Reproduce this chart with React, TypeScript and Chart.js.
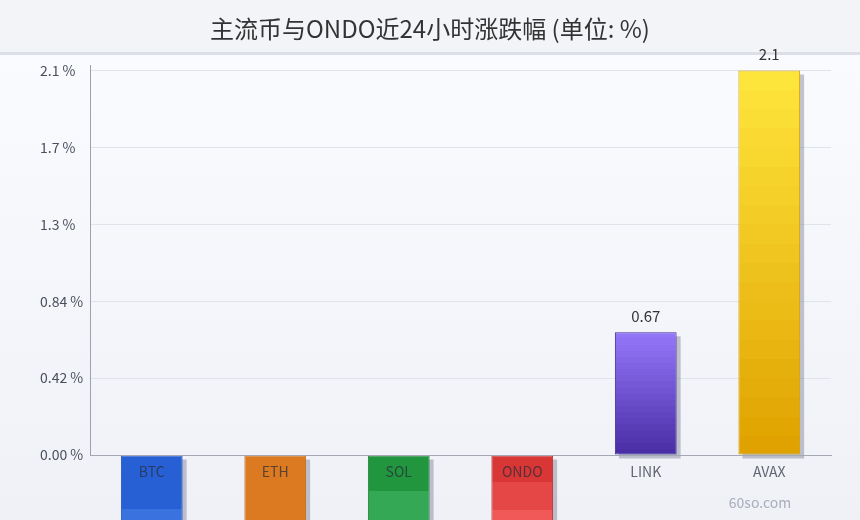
import { useEffect, useRef } from "react"
import { Chart, registerables, type Plugin } from "chart.js"
Chart.register(...registerables)

const TITLE = "主流币与ONDO近24小时涨跌幅 (单位: %)"
const WATERMARK = "60so.com"

const CATEGORIES = ["BTC", "ETH", "SOL", "ONDO", "LINK", "AVAX"]
// 24h change in %, negative bars run off the bottom of the picture
const CHANGE_PCT = [-5.9, -7.6, -3.95, -3.0, 0.67, 2.1]

const Y_TICKS = [0, 0.42, 0.84, 1.26, 1.68, 2.1]
const Y_TICK_LABELS = ["0.00 %", "0.42 %", "0.84 %", "1.3 %", "1.7 %", "2.1 %"]

// colour at the zero end of each bar, and the change per gradient band
const BASE_RGB = [[38, 96, 212], [220, 122, 34], [34, 150, 63], [217, 54, 54], [74, 46, 166], [224, 162, 0]]
const STEP_RGB = [[20, 18, 12], [10, 10, 10], [19, 18, 22], [12, 17, 17], [3.8, 3.8, 4.3], [1.6, 3.5, 3.1]]
const BORDERS = ["#1f52bd", "#c96a18", "#1d8036", "#bd2c2c", "#3d2a9c", "#d7a300"]
const BANDS = 20

const FONT = "'Noto Sans CJK SC', 'Noto Sans', sans-serif"

const rgb = (c: number[]) =>
  `rgb(${c.map((v) => Math.max(0, Math.min(255, Math.round(v)))).join(",")})`

const barFill = (c: any) => {
  const i = c.dataIndex
  const y = c.chart.scales?.y
  if (i === undefined) return rgb(BASE_RGB[0])
  if (!y) return rgb(BASE_RGB[i])
  const y0 = y.getPixelForValue(0)
  const y1 = y.getPixelForValue(CHANGE_PCT[i])
  if (!isFinite(y0) || !isFinite(y1) || y0 === y1) return rgb(BASE_RGB[i])
  const g = c.chart.ctx.createLinearGradient(0, y0, 0, y1)
  for (let b = 0; b < BANDS; b++) {
    const col = rgb(BASE_RGB[i].map((v, k) => v + STEP_RGB[i][k] * b))
    g.addColorStop(b / BANDS, col)
    g.addColorStop((b + 1) / BANDS, col)
  }
  return g
}

const backdrop: Plugin = {
  id: "backdrop",
  beforeDraw(chart) {
    const { ctx, width, height } = chart
    ctx.save()
    const bg = ctx.createLinearGradient(0, 52, 0, height)
    bg.addColorStop(0, "#fafbfe")
    bg.addColorStop(1, "#eff1f7")
    ctx.fillStyle = bg
    ctx.fillRect(0, 0, width, height)
    ctx.fillStyle = "#f3f4f8"
    ctx.fillRect(0, 0, width, 52)
    ctx.fillStyle = "#dcdfe7"
    ctx.fillRect(0, 52, width, 3)
    ctx.fillStyle = "#333333"
    ctx.font = `24px ${FONT}`
    ctx.textAlign = "center"
    ctx.textBaseline = "middle"
    ctx.fillText(TITLE, width / 2, 29)
    ctx.fillStyle = "#a8adba"
    ctx.font = `14px ${FONT}`
    ctx.fillText(WATERMARK, 760, 503)
    ctx.restore()
  },
}

const barShadow: Plugin = {
  id: "barShadow",
  beforeDatasetsDraw(chart) {
    const ctx = chart.ctx
    ctx.save()
    ctx.fillStyle = "rgba(115,120,140,0.42)"
    chart.getDatasetMeta(0).data.forEach((el: any) => {
      const { x, y, base, width } = el.getProps(["x", "y", "base", "width"], true)
      const top = Math.min(y, base)
      const bottom = Math.max(y, base)
      ctx.fillRect(x - width / 2 + 4, top + 4, width, bottom - top)
    })
    ctx.restore()
  },
}

const valueLabels: Plugin = {
  id: "valueLabels",
  afterDatasetsDraw(chart) {
    const ctx = chart.ctx
    ctx.save()
    ctx.font = `15px ${FONT}`
    ctx.fillStyle = "#333333"
    ctx.textAlign = "center"
    chart.getDatasetMeta(0).data.forEach((el: any, i) => {
      const v = CHANGE_PCT[i]
      if (v >= 0) {
        ctx.textBaseline = "bottom"
        ctx.fillText(String(v), el.x, el.y - 9)
      } else {
        ctx.textBaseline = "top"
        ctx.fillText(String(v), el.x, el.y + 9)
      }
    })
    ctx.restore()
  },
}

export default function App() {
  const canvasRef = useRef<HTMLCanvasElement>(null)
  const chartRef = useRef<Chart | null>(null)

  useEffect(() => {
    document.body.style.margin = "0"
    const canvas = canvasRef.current
    if (!canvas) return
    chartRef.current?.destroy()

    chartRef.current = new Chart(canvas, {
      type: "bar",
      data: {
        labels: CATEGORIES,
        datasets: [
          {
            data: CHANGE_PCT,
            backgroundColor: barFill,
            borderColor: BORDERS,
            borderWidth: 1,
            borderSkipped: false,
            barPercentage: 0.5,
            categoryPercentage: 1,
            clip: false as any,
          },
        ],
      },
      options: {
        responsive: false,
        animation: false,
        devicePixelRatio: 1,
        layout: { padding: { left: 40, right: 29, top: 65, bottom: 0 } },
        plugins: { legend: { display: false }, tooltip: { enabled: false } },
        scales: {
          x: {
            grid: { display: false, drawTicks: false },
            border: { color: "#a4a8b3", z: 1 },
            ticks: {
              z: 1,
              color: "rgba(40,44,58,0.72)",
              font: { family: FONT, size: 14 },
              padding: 8,
            },
            afterFit: (s: any) => { s.height = 65 },
          },
          y: {
            min: 0,
            max: 2.13,
            grid: { color: "#e0e3ea", drawTicks: false },
            border: { color: "#9da1ab" },
            afterBuildTicks: (s: any) => { s.ticks = Y_TICKS.map((value) => ({ value })) },
            ticks: {
              color: "#4a4f5c",
              font: { family: FONT, size: 14 },
              crossAlign: "far",
              callback: (_v: any, i: number) => Y_TICK_LABELS[i],
            },
            afterFit: (s: any) => { s.width = 50 },
          },
        },
      },
      plugins: [backdrop, barShadow, valueLabels],
    })

    return () => { chartRef.current?.destroy() }
  }, [])

  return (
    <div style={{ width: 860, height: 520 }}>
      <canvas ref={canvasRef} width={860} height={520} style={{ width: 860, height: 520, display: "block" }} />
    </div>
  )
}
